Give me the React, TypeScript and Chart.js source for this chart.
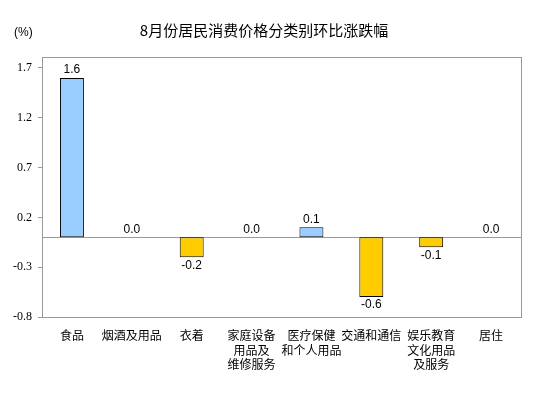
import React, { useEffect, useRef } from "react";
import { Chart, registerables } from "chart.js";

Chart.register(...registerables);

const title = "8月份居民消费价格分类别环比涨跌幅";
const unitLabel = "(%)";
const categories: string[][] = [
  ["食品"],
  ["烟酒及用品"],
  ["衣着"],
  ["家庭设备", "用品及", "维修服务"],
  ["医疗保健", "和个人用品"],
  ["交通和通信"],
  ["娱乐教育", "文化用品", "及服务"],
  ["居住"],
];
const values = [1.6, 0.0, -0.2, 0.0, 0.1, -0.6, -0.1, 0.0];
const yTicks = [-0.8, -0.3, 0.2, 0.7, 1.2, 1.7];
const yMin = -0.8;
const yMax = 1.81;

const POS = "#99CCFF";
const NEG = "#FFCC00";

export default function App() {
  const ref = useRef<HTMLCanvasElement>(null);
  useEffect(() => {
    document.body.style.margin = "0";
    const ctx = ref.current!.getContext("2d")!;
    const decor = {
      id: "decor",
      beforeDatasetsDraw(chart: any) {
        const { ctx, chartArea: a, scales } = chart;
        ctx.save();
        ctx.strokeStyle = "#999999";
        ctx.lineWidth = 1;
        ctx.strokeRect(Math.round(a.left) + 0.5, Math.round(a.top) + 0.5, Math.round(a.right - a.left), Math.round(a.bottom - a.top));
        const y0 = Math.round(scales.y.getPixelForValue(0)) + 0.5;
        ctx.beginPath();
        ctx.moveTo(a.left, y0);
        ctx.lineTo(a.right, y0);
        ctx.stroke();
        ctx.restore();
      },
      afterDatasetsDraw(chart: any) {
        const { ctx } = chart;
        ctx.save();
        ctx.fillStyle = "#000";
        ctx.font = "15px 'Noto Sans CJK SC', sans-serif";
        ctx.textAlign = "center";
        ctx.textBaseline = "middle";
        ctx.fillText(title, 264, 30);
        ctx.font = "12px 'Liberation Sans', sans-serif";
        ctx.textAlign = "left";
        ctx.fillText(unitLabel, 14, 33);
        ctx.font = "12px 'Liberation Sans', Arial, sans-serif";
        ctx.textAlign = "center";
        const meta = chart.getDatasetMeta(0);
        meta.data.forEach((bar: any, i: number) => {
          const v = values[i];
          const txt = v.toFixed(1);
          if (v < 0) {
            ctx.textBaseline = "top";
            ctx.fillText(txt, bar.x, bar.y + 2);
          } else {
            ctx.textBaseline = "bottom";
            ctx.fillText(txt, bar.x, bar.y - 2);
          }
        });
        ctx.restore();
      },
    };
    const chart = new Chart(ctx, {
      type: "bar",
      data: {
        labels: categories,
        datasets: [
          {
            data: values,
            backgroundColor: values.map((v) => (v < 0 ? NEG : POS)),
            borderColor: "#000000",
            borderWidth: 1,
            borderSkipped: false,
            categoryPercentage: 1,
            barPercentage: 0.4,
          },
        ],
      },
      options: {
        animation: false,
        responsive: false,
        devicePixelRatio: 1,
        layout: { padding: { top: 57, right: 33, left: 0, bottom: 0 } },
        plugins: { legend: { display: false }, tooltip: { enabled: false }, title: { display: false } },
        scales: {
          x: {
            grid: { display: false },
            border: { display: false },
            ticks: {
              color: "#000",
              font: { family: "'Noto Sans CJK SC', sans-serif", size: 12, lineHeight: 1.22 },
              padding: 3,
              maxRotation: 0,
              autoSkip: false,
            },
            afterFit: (s: any) => {
              s.height = 81;
            },
          },
          y: {
            min: yMin,
            max: yMax,
            afterBuildTicks: (s: any) => {
              s.ticks = yTicks.map((v) => ({ value: v }));
            },
            grid: { drawOnChartArea: false, tickLength: 4, color: "#999999" },
            border: { display: false },
            ticks: {
              color: "#000",
              font: { family: "'Liberation Serif', serif", size: 12 },
              padding: 6,
              callback: (v: any) => Number(v).toFixed(1),
            },
            afterFit: (s: any) => {
              s.width = 42;
            },
          },
        },
      },
      plugins: [decor],
    });
    return () => chart.destroy();
  }, []);
  return (
    <div style={{ width: 554, height: 398, background: "#fff" }}>
      <canvas ref={ref} width={554} height={398} />
    </div>
  );
}
